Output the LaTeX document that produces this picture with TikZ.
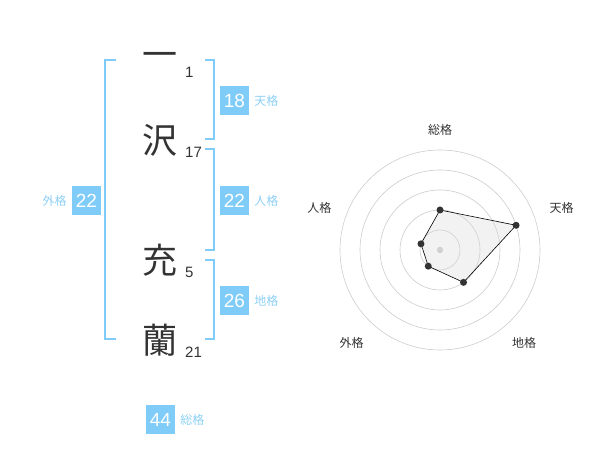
\documentclass[tikz,border=0pt]{standalone}
\usepackage{fontspec}
\setmainfont{Liberation Sans}
\newfontfamily\jp{Noto Sans CJK JP}
\definecolor{kakublue}{RGB}{128, 204, 248}
\definecolor{kakutext}{RGB}{142, 208, 245}
\definecolor{inkgray}{RGB}{51, 51, 51}
\definecolor{ringgray}{RGB}{204, 204, 204}
\usetikzlibrary{positioning, calc}

\begin{document}
\begin{tikzpicture}[x=1pt, y=-1pt,
  kanji/.style={font=\jp\fontsize{35}{35}\selectfont, text=inkgray, inner sep=0pt},
  strokes/.style={font=\fontsize{15}{15}\selectfont, text=inkgray, inner sep=0pt, anchor=base west},
  kakubox/.style={fill=kakublue, text=white, minimum size=29pt, inner sep=0pt, font=\fontsize{19}{19}\selectfont},
  kakulabel/.style={font=\jp\fontsize{12}{12}\selectfont, text=kakutext, inner sep=0pt},
  bracket/.style={draw=kakublue, line width=1.6pt},
  axlabel/.style={font=\jp\fontsize{12}{12}\selectfont, text=inkgray, inner sep=0pt},
  ring/.style={draw=ringgray, line width=0.6pt}
]
  \useasboundingbox (0,0) rectangle (600,470);

  % name characters and stroke counts
  \node[kanji] (c1) at (160, 60) {一};
  \node[kanji] (c2) at (160, 140) {沢};
  \node[kanji] (c3) at (160, 260) {充};
  \node[kanji] (c4) at (160, 340) {蘭};
  \node[strokes] (s1) at (185, 78) {1};
  \node[strokes] (s2) at (185, 158) {17};
  \node[strokes] (s3) at (185, 278) {5};
  \node[strokes] (s4) at (185, 358) {21};

  % brackets
  \draw[bracket] (116, 60) -- (105, 60) -- (105, 339) -- (116, 339);
  \draw[bracket] (205, 60) -- (214, 60) -- (214, 139) -- (205, 139);
  \draw[bracket] (205, 149) -- (214, 149) -- (214, 250) -- (205, 250);
  \draw[bracket] (205, 260) -- (214, 260) -- (214, 339) -- (205, 339);

  % kaku values
  \node[kakubox] (ten) at (234.5, 100.5) {18};
  \node[kakulabel, right=5pt of ten] (tenl) {天格};
  \node[kakubox] (jin) at (234.5, 200.5) {22};
  \node[kakulabel, right=5pt of jin] (jinl) {人格};
  \node[kakubox] (chi) at (234.5, 300.5) {26};
  \node[kakulabel, right=5pt of chi] (chil) {地格};
  \node[kakubox] (gai) at (86.5, 200.5) {22};
  \node[kakulabel, left=5pt of gai] (gail) {外格};
  \node[kakubox] (sou) at (160.5, 419.5) {44};
  \node[kakulabel, right=5pt of sou] (soul) {総格};

  % radar chart
  \begin{scope}[shift={(440,250)}, y=1pt]
    \foreach \r in {20,40,...,100}
      \draw[ring] (0,0) circle (\r);
    \fill[ringgray] (0,0) circle (3.2);
    \filldraw[fill=gray!30, fill opacity=0.35, draw=black, line width=0.6pt]
      (90:40) coordinate (psou) -- (18:80) coordinate (pten) -- (-54:40) coordinate (pchi)
      -- (-126:20) coordinate (pgai) -- (162:20) coordinate (pjin) -- cycle;
    \foreach \p in {psou,pten,pchi,pgai,pjin}
      \fill[inkgray] (\p) circle (3.5);
    \node[axlabel] (asou) at (0, 120) {総格};
    \node[axlabel] (aten) at (121.7, 41.7) {天格};
    \node[axlabel] (achi) at (84, -92.7) {地格};
    \node[axlabel] (agai) at (-88.3, -92.7) {外格};
    \node[axlabel] (ajin) at (-120.7, 41.7) {人格};
  \end{scope}
\end{tikzpicture}
\end{document}
